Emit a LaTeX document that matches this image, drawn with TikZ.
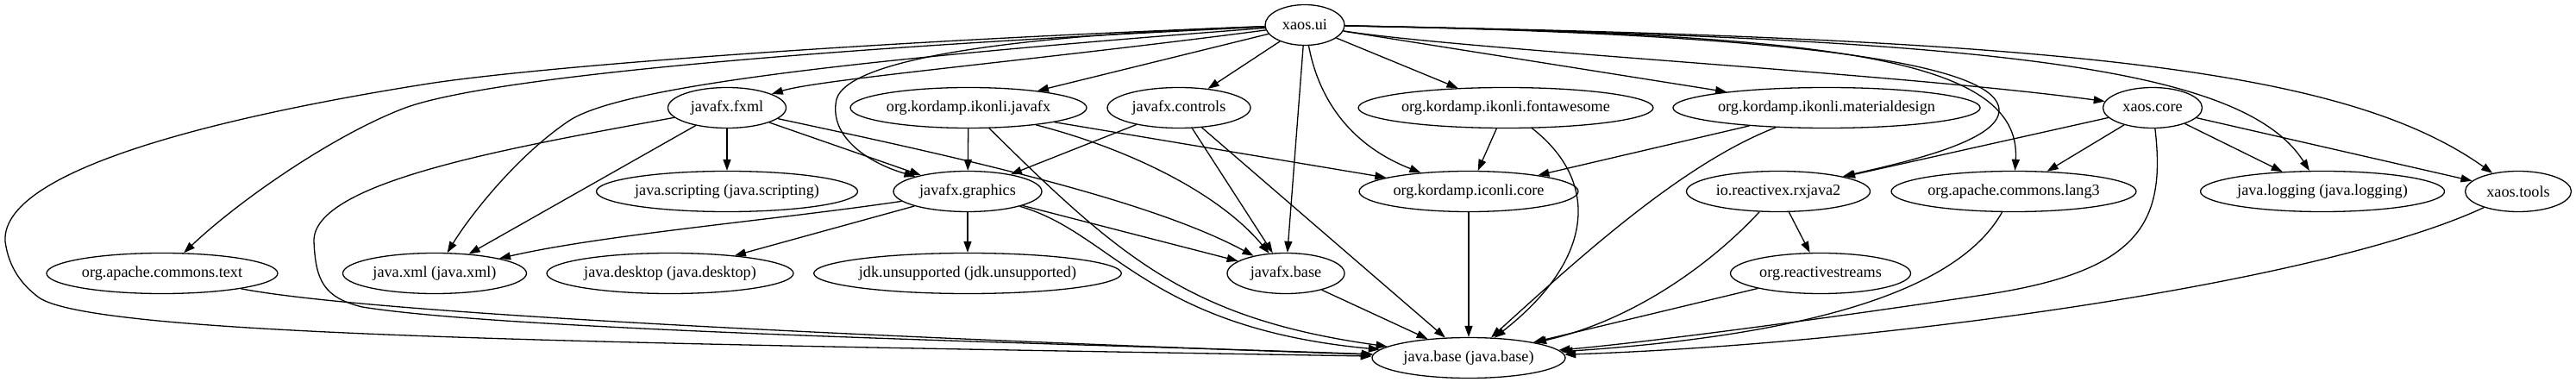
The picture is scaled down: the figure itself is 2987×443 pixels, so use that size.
\documentclass[tikz,border=0pt]{standalone}
\usepackage{fontspec}
\setmainfont{Liberation Serif}
\usetikzlibrary{shapes.geometric,arrows.meta}
\begin{document}
\begin{tikzpicture}[x=1pt,y=-1pt,
 mod/.style={ellipse,draw,line width=1.3pt,inner sep=0pt,minimum height=47pt,font=\fontsize{18.2}{21}\selectfont},
 dep/.style={-{Triangle[length=13pt,width=9pt]},line width=1.3pt}]
\useasboundingbox (0,0) rectangle (2987,443);
% nodes
\node[mod,minimum width=92pt]  (ui)       at (1513,29)  {xaos.ui};
\node[mod,minimum width=137pt] (fxml)     at (843,125)  {javafx.fxml};
\node[mod,minimum width=274pt] (ikjfx)    at (1123,125) {org.kordamp.ikonli.javafx};
\node[mod,minimum width=166pt] (controls) at (1367,125) {javafx.controls};
\node[mod,minimum width=341pt] (fontaw)   at (1746,125) {org.kordamp.ikonli.fontawesome};
\node[mod,minimum width=352pt] (material) at (2118,125) {org.kordamp.ikonli.materialdesign};
\node[mod,minimum width=115pt] (core)     at (2496,125) {xaos.core};
\node[mod,minimum width=303pt] (script)   at (843,222)  {java.scripting (java.scripting)};
\node[mod,minimum width=172pt] (graphics) at (1122,222) {javafx.graphics};
\node[mod,minimum width=254pt] (iconli)   at (1703,222) {org.kordamp.iconli.core};
\node[mod,minimum width=213pt] (rx)       at (2062,222) {io.reactivex.rxjava2};
\node[mod,minimum width=284pt] (lang3)    at (2335,222) {org.apache.commons.lang3};
\node[mod,minimum width=283pt] (logging)  at (2693,222) {java.logging (java.logging)};
\node[mod,minimum width=123pt] (tools)    at (2920,222) {xaos.tools};
\node[mod,minimum width=268pt] (ctext)    at (188,317)  {org.apache.commons.text};
\node[mod,minimum width=213pt] (xml)      at (504,317)  {java.xml (java.xml)};
\node[mod,minimum width=286pt] (desktop)  at (777,317)  {java.desktop (java.desktop)};
\node[mod,minimum width=356pt] (unsup)    at (1122,317) {jdk.unsupported (jdk.unsupported)};
\node[mod,minimum width=136pt] (fxbase)   at (1491,317) {javafx.base};
\node[mod,minimum width=209pt] (streams)  at (2111,317) {org.reactivestreams};
\node[mod,minimum width=224pt] (base)     at (1703,415) {java.base (java.base)};
% edges from xaos.ui
\draw[dep] (ui) .. controls (1000,48) and (620,78) .. (497,97) .. controls (300,128) and (0,190) .. (6,280) .. controls (10,310) and (25,330) .. (45,345) .. controls (110,390) and (700,398) .. (base);
\draw[dep] (ui) .. controls (900,58) and (560,92) .. (470,125) .. controls (390,155) and (280,230) .. (ctext);
\draw[dep] (ui) .. controls (1000,68) and (720,100) .. (660,140) .. controls (600,180) and (545,250) .. (xml);
\draw[dep] (ui) .. controls (1200,40) and (985,65) .. (970,115) .. controls (960,160) and (1010,190) .. (graphics);
\draw[dep] (ui) .. controls (1200,70) and (950,92) .. (fxml);
\draw[dep] (ui) -- (ikjfx);
\draw[dep] (ui) -- (controls);
\draw[dep] (ui) -- (fxbase);
\draw[dep] (ui) .. controls (1530,120) and (1570,170) .. (iconli);
\draw[dep] (ui) -- (fontaw);
\draw[dep] (ui) -- (material);
\draw[dep] (ui) .. controls (1700,58) and (2200,85) .. (core);
\draw[dep] (ui) .. controls (2000,38) and (2318,65) .. (2318,128) .. controls (2318,165) and (2200,190) .. (rx);
\draw[dep] (ui) .. controls (2100,40) and (2345,62) .. (lang3);
\draw[dep] (ui) .. controls (2300,45) and (2600,75) .. (logging);
\draw[dep] (ui) .. controls (2400,45) and (2720,80) .. (tools);
% javafx.fxml
\draw[dep] (fxml) -- (script);
\draw[dep] (fxml) -- (xml);
\draw[dep] (fxml) -- (graphics);
\draw[dep] (fxml) .. controls (1100,180) and (1330,230) .. (fxbase);
\draw[dep] (fxml) .. controls (600,170) and (362,210) .. (364,280) .. controls (366,325) and (375,345) .. (420,356) .. controls (600,385) and (1300,400) .. (base);
% org.kordamp.ikonli.javafx
\draw[dep] (ikjfx) -- (graphics);
\draw[dep] (ikjfx) -- (iconli);
\draw[dep] (ikjfx) .. controls (1300,170) and (1410,220) .. (fxbase);
\draw[dep] (ikjfx) .. controls (1300,300) and (1380,370) .. (base);
% javafx.controls
\draw[dep] (controls) -- (graphics);
\draw[dep] (controls) -- (fxbase);
\draw[dep] (controls) -- (base);
% fontawesome, materialdesign
\draw[dep] (fontaw) -- (iconli);
\draw[dep] (fontaw) .. controls (1855,210) and (1850,300) .. (base);
\draw[dep] (material) -- (iconli);
\draw[dep] (material) .. controls (1950,190) and (1830,300) .. (base);
% xaos.core
\draw[dep] (core) -- (rx);
\draw[dep] (core) -- (lang3);
\draw[dep] (core) -- (logging);
\draw[dep] (core) -- (tools);
\draw[dep] (core) .. controls (2512,260) and (2480,315) .. (2300,342) .. controls (2100,372) and (1900,398) .. (base);
% javafx.graphics
\draw[dep] (graphics) .. controls (900,255) and (700,272) .. (xml);
\draw[dep] (graphics) -- (desktop);
\draw[dep] (graphics) -- (unsup);
\draw[dep] (graphics) -- (fxbase);
\draw[dep] (graphics) .. controls (1290,270) and (1330,380) .. (base);
% others
\draw[dep] (iconli) -- (base);
\draw[dep] (fxbase) -- (base);
\draw[dep] (ctext) .. controls (450,368) and (1200,398) .. (base);
\draw[dep] (rx) -- (streams);
\draw[dep] (rx) .. controls (1990,300) and (1900,370) .. (base);
\draw[dep] (streams) -- (base);
\draw[dep] (lang3) .. controls (2280,320) and (2150,385) .. (base);
\draw[dep] (tools) .. controls (2700,325) and (2200,398) .. (base);
\end{tikzpicture}
\end{document}
